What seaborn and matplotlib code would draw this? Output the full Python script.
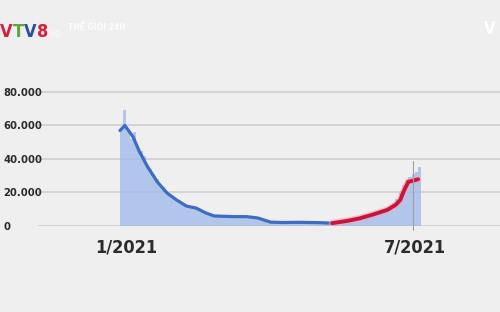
import numpy as np
import pandas as pd
import matplotlib
matplotlib.use("Agg")
import matplotlib.pyplot as plt
import seaborn as sns

# ---- data (days counted from 1 Jan 2021) ----
bar_days = list(range(0, 186, 2))
bar_vals = [58000, 69000, 57000, 52000, 56000, 48000, 45000, 42000, 36000, 34000,
            30000, 28000, 24000, 23000, 20000, 18500, 17000, 15500, 14500, 13000,
            12000, 11500, 11000, 10500, 9800, 8800, 8000, 7000, 6300, 6000,
            5800, 5600, 5700, 5500, 5600, 5500, 5700, 5400, 5500, 5300,
            5200, 5000, 4600, 4000, 3400, 2800, 2400, 2200, 2100, 2200,
            2100, 2300, 2200, 2100, 2300, 2200, 2100, 2200, 2000, 2100,
            2000, 1900, 2000, 1800, 1900, 1700, 2000, 2300, 2600, 2900,
            3200, 3500, 3900, 4300, 4800, 5300, 5800, 6400, 7000, 7600,
            8300, 9200, 10300, 11800, 13500, 16000, 19500, 24500, 27500, 29500,
            31000, 32000, 35000]

blue_days = [0, 3, 8, 12, 17, 23, 29, 35, 41, 47, 53, 58, 70, 78, 85, 93, 100, 111, 123, 131]
blue_vals = [57000, 60000, 53300, 44400, 35400, 26400, 19700, 15500, 11900, 10700,
             7800, 6000, 5600, 5600, 4800, 2300, 2100, 2200, 2000, 1700]
red_days = [131, 140, 148, 156, 165, 170, 173, 175, 178, 180, 184]
red_vals = [1700, 3000, 4600, 6800, 9600, 12500, 15500, 20500, 26400, 26800, 27900]

y_ticks = [0, 20000, 40000, 60000, 80000]
y_labels = ["0", "20.000", "40.000", "60.000", "80.000"]
x_ticks = [4, 182]
x_labels = ["1/2021", "7/2021"]
marker_day = 181

BG = "#efefef"
sns.set_theme(style="white")
plt.rcParams["font.family"] = ["DejaVu Sans"]
plt.rcParams["font.stretch"] = "condensed"

fig = plt.figure(figsize=(5, 3.12), dpi=100)
fig.patch.set_facecolor(BG)
ax = fig.add_axes([38 / 500, 1 - 226 / 312, 462 / 500, (226 - 80) / 312])
ax.set_facecolor(BG)

bars_df = pd.DataFrame({"day": bar_days, "cases": bar_vals})
sns.histplot(data=bars_df, x="day", weights="cases", binwidth=2, binrange=(0, 186),
             color="#a3bbea", alpha=0.8, linewidth=0, ax=ax)

blue_df = pd.DataFrame({"day": blue_days, "val": blue_vals})
red_df = pd.DataFrame({"day": red_days, "val": red_vals})
sns.lineplot(data=blue_df, x="day", y="val", color="#3d6cc2", lw=2.3, ax=ax)
sns.lineplot(data=red_df, x="day", y="val", color="#f4a6b8", lw=5.0, alpha=0.6, ax=ax)
sns.lineplot(data=red_df, x="day", y="val", color="#c8153f", lw=2.8, ax=ax)

ax.set_xlim((38 - 120) / 1.62, (500 - 120) / 1.62)
ax.set_ylim(0, 87164)
ax.set_xlabel("")
ax.set_ylabel("")
for s in ax.spines.values():
    s.set_visible(False)

ax.set_yticks(y_ticks)
ax.set_yticklabels(y_labels)
ax.grid(axis="y", color="#d2d2d2", lw=1.3)
ax.grid(axis="x", visible=False)
ax.set_axisbelow(True)
ax.tick_params(axis="y", length=0, pad=25.2, labelsize=8.0, labelcolor="#2b2b2b")
for lab in ax.get_yticklabels():
    lab.set_horizontalalignment("left")
    lab.set_fontweight("bold")
    lab.set_fontstretch("condensed")

ax.set_xticks(x_ticks)
ax.set_xticklabels(x_labels)
ax.tick_params(axis="x", length=0, pad=9.0, labelsize=13, labelcolor="#2b2b2b")
for lab in ax.get_xticklabels():
    lab.set_fontweight("bold")
    lab.set_fontstretch("condensed")

ax.axvline(marker_day, ymin=-0.03, ymax=(226 - 161) / 146, color="#a0a0a0", lw=0.8, clip_on=False)

# broadcast overlay
for ch, x, c in [("V", 0, "#d4213d"), ("T", 13, "#5aa83a"), ("V", 24, "#2d4fa0"), ("8", 37, "#d4213d")]:
    fig.text(x / 500, 1 - 37 / 312, ch, color=c, fontsize=13, fontweight="bold",
             fontstretch="condensed", ha="left", va="baseline")
fig.text(50 / 500, 1 - 37 / 312, "HD", color="white", fontsize=5.5, alpha=0.9)
fig.text(68 / 500, 1 - 30 / 312, "THẾ GIỚI 24H", color="white", fontsize=6,
         fontweight="bold", alpha=0.9)
fig.text(484 / 500, 1 - 34 / 312, "V", color="white", fontsize=12, fontweight="bold",
         alpha=0.95)

fig.savefig("out.png", dpi=100, facecolor=BG)
